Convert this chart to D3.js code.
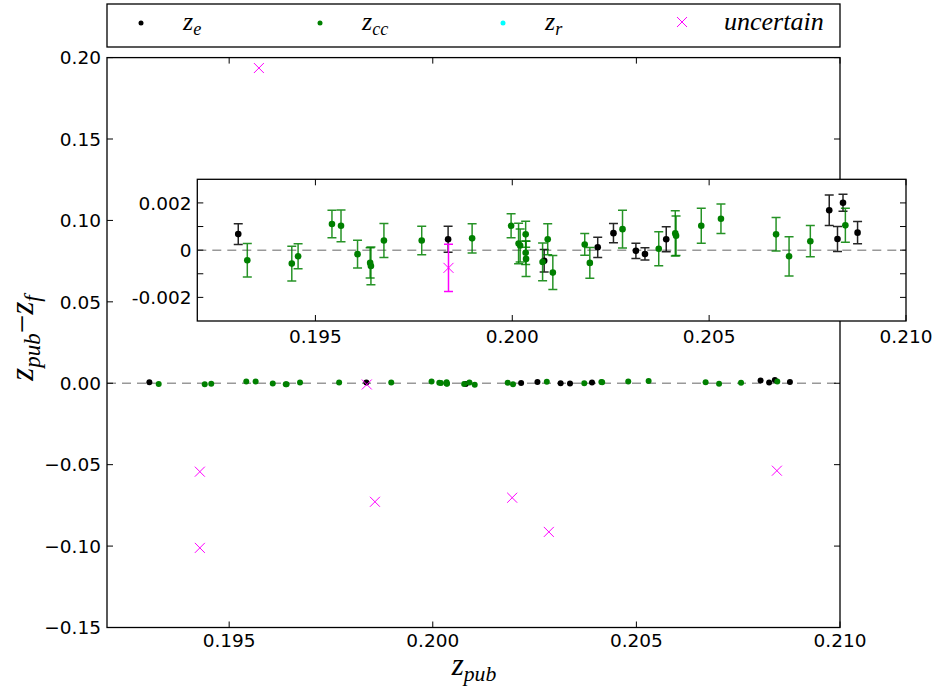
<!DOCTYPE html>
<html><head><meta charset="utf-8">
<script src="https://cdn.jsdelivr.net/npm/d3@7/dist/d3.min.js"></script>
<style>body{margin:0;background:#fff}svg{display:block}</style>
</head><body>
<svg id="c" width="942" height="690"></svg>
<script>
// ---- data ----
const zeX   = [0.19304,0.19837,0.20081,0.20217,0.20257,0.20314,0.20337,0.20391,0.20805,0.20826,0.20840,0.20877];
const zeY   = [0.00068,0.00046,-0.00045,0.00012,0.00072,-0.00003,-0.00016,0.00046,0.00169,0.00047,0.00201,0.00074];
const zeErr = [0.00044,0.00055,0.00048,0.00043,0.00041,0.00032,0.00026,0.00053,0.00065,0.00053,0.00036,0.00047];

const zccX   = [0.19327,0.19440,0.19456,0.19542,0.19565,0.19607,0.19639,0.19641,0.19674,0.19770,0.19898,0.19997,0.20016,0.20020,0.20034,0.20034,0.20035,0.20077,0.20090,0.20103,0.20184,0.20197,0.20280,0.20372,0.20414,0.20416,0.20480,0.20530,0.20670,0.20703,0.20757,0.20846];
const zccY   = [-0.00043,-0.00057,-0.00026,0.00111,0.00103,-0.00017,-0.00054,-0.00067,0.00041,0.00041,0.00050,0.00103,0.00028,0.00020,0.00067,-0.00011,-0.00037,-0.00050,0.00046,-0.00095,0.00024,-0.00054,0.00089,0.00006,0.00071,0.00061,0.00103,0.00133,0.00067,-0.00026,0.00038,0.00105];
const zccErr = [0.00071,0.00074,0.00053,0.00058,0.00067,0.00059,0.00064,0.00080,0.00072,0.00060,0.00062,0.00051,0.00086,0.00070,0.00055,0.00050,0.00075,0.00080,0.00066,0.00072,0.00046,0.00065,0.00080,0.00072,0.00096,0.00084,0.00074,0.00062,0.00071,0.00083,0.00066,0.00072];

const uncX   = [0.19573,0.19428,0.19428,0.19838,0.19858,0.20195,0.20285,0.20845];
const uncY   = [0.1936,-0.0543,-0.1011,-0.00075,-0.0728,-0.0703,-0.0913,-0.0537];
const uncErr = [0.0010,0.0010,0.0010,0.0010,0.0010,0.0010,0.0010,0.0010];

const mainXTicks = [0.195,0.200,0.205,0.210];
const mainYTicks = [-0.15,-0.10,-0.05,0.00,0.05,0.10,0.15,0.20];
const insetXTicks = [0.195,0.200,0.205,0.210];
const insetYTicks = [-0.002,-0.001,0,0.001,0.002];
const insetYLabels = {"-0.002":"-0.002","0":"0","0.002":"0.002"};

const legendItems = [
  {kind:"dot", color:"#000000", parts:[{t:"z"},{t:"e",sub:true}]},
  {kind:"dot", color:"#008000", parts:[{t:"z"},{t:"cc",sub:true}]},
  {kind:"dot", color:"#00ffff", parts:[{t:"z"},{t:"r",sub:true}]},
  {kind:"x",   color:"#ff00ff", parts:[{t:"uncertain"}]}
];

// ---- drawing ----
const svg = d3.select("#c");
const TICKFONT = "DejaVu Sans, sans-serif";
const MATHFONT = "Liberation Serif, serif";

function mathText(g, x, y, parts, size, anchor){
  const t = g.append("text").attr("x",x).attr("y",y)
    .attr("font-family",MATHFONT).attr("font-size",size)
    .attr("text-anchor",anchor||"start").attr("fill","#000");
  let shifted = false;
  parts.forEach(p=>{
    const ts = t.append("tspan").text(p.t);
    if(p.sub){
      ts.attr("font-size",size*0.7).attr("font-style","italic");
      if(!shifted){ ts.attr("dy",size*0.2); shifted=true; }
    } else {
      ts.attr("font-style", p.up ? "normal" : "italic");
      if(shifted){ ts.attr("dy",-size*0.2); shifted=false; }
    }
  });
  return t;
}

function xMarker(g, cx, cy, s, color){
  g.append("path").attr("d",`M${cx-s},${cy-s}L${cx+s},${cy+s}M${cx-s},${cy+s}L${cx+s},${cy-s}`)
    .attr("stroke",color).attr("stroke-width",1).attr("fill","none");
}

// main axes
const mx = d3.scaleLinear().domain([0.192,0.210]).range([107,840]);
const my = d3.scaleLinear().domain([-0.15,0.20]).range([627.5,57.6]);
const main = svg.append("g");
main.append("line").attr("x1",107).attr("x2",840).attr("y1",my(0)).attr("y2",my(0))
  .attr("stroke","#999").attr("stroke-width",1.5).attr("stroke-dasharray","9,6");

function drawSeries(g, xs, ys, es, xS, yS, color, r, bars){
  if(bars){
    xs.forEach((x,i)=>{
      const px=xS(x), y1=yS(ys[i]-es[i]), y2=yS(ys[i]+es[i]);
      g.append("path").attr("d",`M${px},${y1}L${px},${y2}M${px-4.5},${y1}L${px+4.5},${y1}M${px-4.5},${y2}L${px+4.5},${y2}`)
        .attr("stroke",color).attr("stroke-width",1.5).attr("fill","none").attr("opacity",0.85);
    });
  }
  g.selectAll(null).data(xs).enter().append("circle")
    .attr("cx",d=>xS(d)).attr("cy",(d,i)=>yS(ys[i])).attr("r",r).attr("fill",color);
}

const mainPlot = main.append("g");
drawSeries(mainPlot, zeX, zeY, zeErr, mx, my, "#000", 3, false);
drawSeries(mainPlot, zccX, zccY, zccErr, mx, my, "#008000", 3, false);
uncX.forEach((x,i)=>xMarker(mainPlot, mx(x), my(uncY[i]), 5, "#ff00ff"));

// main frame and ticks
main.append("rect").attr("x",107).attr("y",57.6).attr("width",733).attr("height",627.5-57.6)
  .attr("fill","none").attr("stroke","#000").attr("stroke-width",1.3);
mainXTicks.forEach(t=>{
  const px=mx(t);
  main.append("line").attr("x1",px).attr("x2",px).attr("y1",627.5).attr("y2",621.5).attr("stroke","#000");
  main.append("line").attr("x1",px).attr("x2",px).attr("y1",57.6).attr("y2",63.6).attr("stroke","#000");
  main.append("text").attr("x",px).attr("y",647).attr("text-anchor","middle")
    .attr("font-family",TICKFONT).attr("font-size",18.5).text(d3.format(".3f")(t));
});
mainYTicks.forEach(t=>{
  const py=my(t);
  main.append("line").attr("x1",107).attr("x2",113).attr("y1",py).attr("y2",py).attr("stroke","#000");
  main.append("line").attr("x1",840).attr("x2",834).attr("y1",py).attr("y2",py).attr("stroke","#000");
  main.append("text").attr("x",101).attr("y",py+6.7).attr("text-anchor","end")
    .attr("font-family",TICKFONT).attr("font-size",18.5).text(d3.format(".2f")(t).replace("-","\u2212"));
});

// axis labels
mathText(svg, 474, 675, [{t:"z"},{t:"pub",sub:true}], 31, "middle");
const yl = svg.append("g").attr("transform","translate(33,338) rotate(-90)");
mathText(yl, 0, 0, [{t:"z"},{t:"pub",sub:true},{t:"\u2212",up:true},{t:"z"},{t:"f",sub:true}], 33, "middle");

// inset
const ix = d3.scaleLinear().domain([0.192,0.210]).range([197.3,906]);
const iy = d3.scaleLinear().domain([-0.003,0.003]).range([321,179.3]);
const inset = svg.append("g");
inset.append("rect").attr("x",197.3).attr("y",179.3).attr("width",906-197.3).attr("height",321-179.3).attr("fill","#fff");
inset.append("line").attr("x1",197.3).attr("x2",906).attr("y1",iy(0)).attr("y2",iy(0))
  .attr("stroke","#999").attr("stroke-width",1.5).attr("stroke-dasharray","9,6");
const clip = svg.append("defs").append("clipPath").attr("id","ic");
clip.append("rect").attr("x",197.3).attr("y",179.3).attr("width",906-197.3).attr("height",321-179.3);
const ip = inset.append("g").attr("clip-path","url(#ic)");
drawSeries(ip, zeX, zeY, zeErr, ix, iy, "#000", 3.3, true);
drawSeries(ip, zccX, zccY, zccErr, ix, iy, "#008000", 3.3, true);
uncX.forEach((x,i)=>{
  const px=ix(x), y1=iy(uncY[i]-uncErr[i]), y2=iy(uncY[i]+uncErr[i]);
  ip.append("path").attr("d",`M${px},${y1}L${px},${y2}M${px-4.5},${y1}L${px+4.5},${y1}M${px-4.5},${y2}L${px+4.5},${y2}`)
    .attr("stroke","#ff00ff").attr("stroke-width",1.5).attr("fill","none");
  xMarker(ip, px, iy(uncY[i]), 5, "#ff00ff");
});
inset.append("rect").attr("x",197.3).attr("y",179.3).attr("width",906-197.3).attr("height",321-179.3)
  .attr("fill","none").attr("stroke","#000").attr("stroke-width",1.3);
insetXTicks.forEach(t=>{
  const px=ix(t);
  inset.append("line").attr("x1",px).attr("x2",px).attr("y1",321).attr("y2",315).attr("stroke","#000");
  inset.append("line").attr("x1",px).attr("x2",px).attr("y1",179.3).attr("y2",185.3).attr("stroke","#000");
  inset.append("text").attr("x",px).attr("y",342.5).attr("text-anchor","middle")
    .attr("font-family",TICKFONT).attr("font-size",18.5).text(d3.format(".3f")(t));
});
insetYTicks.forEach(t=>{
  const py=iy(t);
  inset.append("line").attr("x1",197.3).attr("x2",203.3).attr("y1",py).attr("y2",py).attr("stroke","#000");
  inset.append("line").attr("x1",906).attr("x2",900).attr("y1",py).attr("y2",py).attr("stroke","#000");
  const key = String(+t.toFixed(3));
  if(insetYLabels[key]!==undefined){
    inset.append("text").attr("x",191.5).attr("y",py+6.7).attr("text-anchor","end")
      .attr("font-family",TICKFONT).attr("font-size",18.5).text(insetYLabels[key]);
  }
});

// legend
const lg = svg.append("g");
lg.append("rect").attr("x",107).attr("y",4).attr("width",733).attr("height",43)
  .attr("fill","#fff").attr("stroke","#000").attr("stroke-width",1.3);
const legX = [141,320,503,682];
legendItems.forEach((it,i)=>{
  const x=legX[i];
  if(it.kind==="dot") lg.append("circle").attr("cx",x).attr("cy",23).attr("r",2.5).attr("fill",it.color);
  else xMarker(lg, x, 22, 5, it.color);
  mathText(lg, x+42, 30, it.parts, 26, "start");
});
</script>
</body></html>
